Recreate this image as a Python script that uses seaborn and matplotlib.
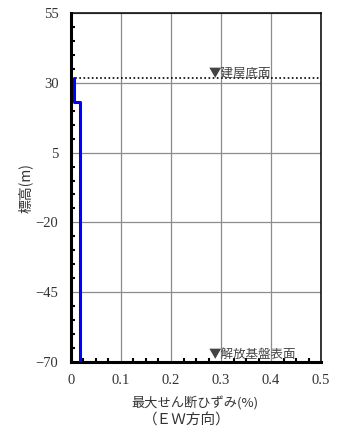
import matplotlib
matplotlib.use("Agg")
import matplotlib.pyplot as plt
import seaborn as sns
import pandas as pd
from matplotlib.ticker import MultipleLocator

# Profile of max shear strain vs elevation (step profile)
elevation = [31.8, 23.2, 23.2, -70.0]
strain = [0.0054, 0.0054, 0.0186, 0.0186]
building_base = 31.8
bedrock_surface = -70.0
y_ticks = [55, 30, 5, -20, -45, -70]
y_labels = ['55', '30', '5', '\u221220', '\u221245', '\u221270']
x_ticks = [0, 0.1, 0.2, 0.3, 0.4, 0.5]
x_labels = ['0', '0.1', '0.2', '0.3', '0.4', '0.5']

sns.set_style("white")
plt.rcParams['font.family'] = ['Liberation Serif', 'Noto Sans CJK JP', 'DejaVu Sans']
jp = ['Noto Sans CJK JP', 'DejaVu Sans']

df = pd.DataFrame({"strain": strain, "elevation": elevation})

fig = plt.figure(figsize=(3.42, 4.33), dpi=100)
ax = fig.add_axes([0.2076, 0.164, 0.731, 0.806])

ax.grid(True, color='#8c8c8c', linewidth=0.9)
ax.axhline(building_base, color='black', linestyle=(0, (1, 1.5)), linewidth=1.2, zorder=3)

sns.lineplot(data=df, x="strain", y="elevation", sort=False, estimator=None,
             color='#0000ff', linewidth=2.2, ax=ax, zorder=4)

ax.set_xlim(0, 0.5)
ax.set_ylim(-70, 55)
ax.set_xticks(x_ticks)
ax.set_xticklabels(x_labels)
ax.set_yticks(y_ticks)
ax.set_yticklabels(y_labels)
ax.xaxis.set_minor_locator(MultipleLocator(0.025))
ax.yaxis.set_minor_locator(MultipleLocator(5))
ax.tick_params(which='both', direction='in', bottom=True, left=True,
               labelsize=10.5, colors='black', pad=9)
ax.tick_params(which='major', length=0)
ax.tick_params(which='minor', length=3, width=1.5)
for lab in ax.get_xticklabels() + ax.get_yticklabels():
    lab.set_color('#333333')

for side in ['left', 'bottom']:
    ax.spines[side].set_linewidth(2.2)
for side in ['top', 'right']:
    ax.spines[side].set_linewidth(1.1)
for s in ax.spines.values():
    s.set_color('black')

ax.text(0.276, building_base - 0.8, '▼建屋底面', fontsize=9, color='#444444',
        family=jp, va='bottom', ha='left', zorder=5)
ax.text(0.276, bedrock_surface + 0.2, '▼解放基盤表面', fontsize=9, color='#444444',
        family=jp, va='bottom', ha='left', zorder=5)

ax.set_xlabel('')
ax.set_ylabel('')
fig.text(0.075, 0.565, '標高(m)', fontsize=10, rotation=90, ha='center', va='center',
         color='#333333', family=jp)
fig.text(0.569, 0.069, '最大せん断ひずみ(%)', fontsize=9.5, ha='center', va='center',
         color='#333333', family=jp)
fig.text(0.547, 0.030, '（ＥＷ方向）', fontsize=10.5, ha='center', va='center',
         color='#333333', family=jp)

fig.savefig('out.png', dpi=100)
